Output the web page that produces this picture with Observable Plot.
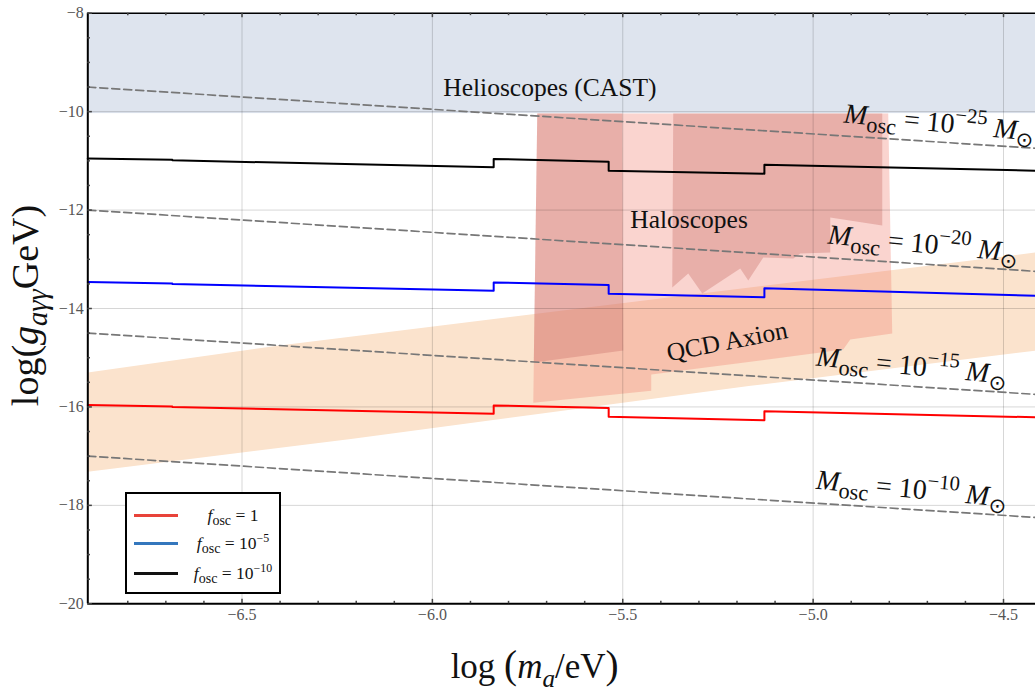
<!DOCTYPE html>
<html><head><meta charset="utf-8">
<script src="https://cdn.jsdelivr.net/npm/d3@7"></script>
<script src="https://cdn.jsdelivr.net/npm/@observablehq/plot@0.6"></script>
<style>
body{margin:0;background:#fff;}
#wrap{position:relative;width:1035px;height:695px;overflow:hidden;font-family:"Liberation Serif","Times New Roman",serif;}
#wrap svg{display:block;}
#legend{position:absolute;left:125px;top:492px;width:152px;height:98px;border:2px solid #000;background:#fff;}
.row{position:absolute;left:0;width:152px;height:22px;}
.sw{position:absolute;left:7px;top:10px;width:44px;height:0;border-top:3px solid;}
.lab{position:absolute;left:56px;width:100px;text-align:center;font-size:17.5px;line-height:22px;color:#111;white-space:nowrap;}
.lab sub{font-size:0.8em;vertical-align:-0.3em;line-height:0;}
.lab sup{font-size:0.68em;vertical-align:0.55em;line-height:0;}
</style></head>
<body><div id="wrap"></div>
<script>
// ---------- scales / ticks ----------
const X_DOMAIN = [-6.905, -4.416];
const Y_DOMAIN = [-20, -8];
const xMajor = [-6.5, -6.0, -5.5, -5.0, -4.5];
const xMinor = [-6.8,-6.7,-6.6,-6.4,-6.3,-6.2,-6.1,-5.9,-5.8,-5.7,-5.6,-5.4,-5.3,-5.2,-5.1,-4.9,-4.8,-4.7,-4.6];
const yMajor = [-8,-10,-12,-14,-16,-18,-20];
const yGrid = [-10,-12,-14,-16,-18];
const yMinor = [-8.5,-9,-9.5,-10.5,-11,-11.5,-12.5,-13,-13.5,-14.5,-15,-15.5,-16.5,-17,-17.5,-18.5,-19,-19.5];

// ---------- f_osc step curves ----------
const stepX  = [-6.905,-6.683,-6.683,-5.839,-5.839,-5.537,-5.537,-5.128,-5.128,-4.416];
const fBlack = [-10.95,-10.98,-10.99,-11.13,-10.96,-11.02,-11.20,-11.26,-11.08,-11.20];
const fBlue  = [-13.46,-13.49,-13.50,-13.64,-13.47,-13.52,-13.70,-13.77,-13.59,-13.74];
const fRed   = [-15.96,-15.99,-16.00,-16.14,-15.97,-16.02,-16.20,-16.27,-16.09,-16.21];

// ---------- M_osc dashed lines ----------
const moscX = [-6.905, -4.416];
const moscStart = [-9.5, -12.0, -14.5, -17.0];
const moscEnd   = [-10.745, -13.245, -15.745, -18.245];
const moscExp   = ["−25", "−20", "−15", "−10"];
const moscLabelX = [-4.921, -4.963, -4.994, -4.994];
const moscLabelY = [-10.222, -12.68, -15.16, -17.66];

// ---------- regions ----------
const helioX = [-6.905, -4.416];
const helioY = [-10.04, -8];
const qcdTopX = [-6.905, -6.407, -4.416];
const qcdTopY = [-15.30, -14.755, -12.862];
const qcdBotX = [-6.905, -6.214, -5.164, -4.416];
const qcdBotY = [-17.315, -16.65, -15.57, -14.856];
const haloLightX = [-5.7245,-4.8028,-4.7923,-4.9026,-4.9210,-5.4252,-5.4252,-5.7350];
const haloLightY = [-10.04,-10.04,-14.51,-14.632,-14.835,-15.343,-15.669,-15.913];
const haloDark1X = [-5.7245,-5.5013,-5.4987,-5.7337];
const haloDark1Y = [-10.04,-10.04,-14.855,-15.099];
const haloDark2X = [-5.3674,-4.8185,-4.8185,-4.9550,-4.9550,-5.0338,-5.0522,-5.1310,-5.1704,-5.1914,-5.2912,-5.3280,-5.3700];
const haloDark2Y = [-10.04,-10.04,-12.315,-12.152,-12.864,-12.884,-12.986,-12.965,-13.433,-13.189,-13.697,-13.291,-13.575];

// ---------- region labels ----------
const labelText  = ["Helioscopes (CAST)", "Haloscopes", "QCD Axion"];
const labelX     = [-5.9714, -5.4803, -5.380];
const labelY     = [-9.673, -12.356, -15.07];
const labelAngle = [0, 0, -11];

// ---------- legend ----------
const legendSup = ["", "−5", "−10"];
const legendBase = ["1", "10", "10"];
const legendColors = ["#e8433a", "#3477bd", "#111111"];

const FONT = '"Liberation Serif","Times New Roman",serif';

// build tables
const zipXY = (xs, ys, extra = {}) => xs.map((x, i) => ({x, y: ys[i], ...extra}));
const steps = [
  ...zipXY(stepX, fBlack, {s: "black"}),
  ...zipXY(stepX, fBlue, {s: "blue"}),
  ...zipXY(stepX, fRed, {s: "red"})
];
const dashed = moscStart.flatMap((y0, i) => [{x: moscX[0], y: y0, k: i}, {x: moscX[1], y: moscEnd[i], k: i}]);
const moscLabels = moscExp.map((e, i) => ({x: moscLabelX[i], y: moscLabelY[i], text: `Mosc = 10${e} M⊙`}));
const qcdPoly = [...zipXY(qcdTopX, qcdTopY), ...zipXY(qcdBotX, qcdBotY).reverse()];
const regionLabels = labelText.map((t, i) => ({text: t, x: labelX[i], y: labelY[i], r: labelAngle[i]}));

const X0 = X_DOMAIN[0], Y0 = Y_DOMAIN[0], Y1 = Y_DOMAIN[1];

const yTitle = "log(gaγγGeV)";
const xTitle = "log (ma/eV)";

const svg = Plot.plot({
  width: 1035, height: 695,
  marginLeft: 87.3, marginRight: 0, marginTop: 12.7, marginBottom: 91.7,
  x: {domain: X_DOMAIN},
  y: {domain: Y_DOMAIN},
  style: {fontFamily: FONT, background: "white", color: "#111"},
  marks: [
    Plot.rect([0], {x1: () => helioX[0], x2: () => helioX[1], y1: () => helioY[0], y2: () => helioY[1], fill: "#dee4ee"}),
    Plot.line(qcdPoly, {x: "x", y: "y", fill: "#fbe3cd", stroke: "none"}),
    Plot.line(zipXY(haloLightX, haloLightY), {x: "x", y: "y", fill: "rgb(239,120,107)", fillOpacity: 0.32, stroke: "none"}),
    Plot.line(zipXY(haloDark1X, haloDark1Y), {x: "x", y: "y", fill: "rgb(202,110,106)", fillOpacity: 0.37, stroke: "none"}),
    Plot.line(zipXY(haloDark2X, haloDark2Y), {x: "x", y: "y", fill: "rgb(202,110,106)", fillOpacity: 0.37, stroke: "none"}),
    // grid
    Plot.ruleX(xMajor, {stroke: "#000", strokeOpacity: 0.16, strokeWidth: 1}),
    Plot.ruleY(yGrid, {stroke: "#000", strokeOpacity: 0.16, strokeWidth: 1}),
    // dashed M_osc lines
    Plot.line(dashed, {x: "x", y: "y", z: "k", stroke: "#777", strokeWidth: 1.7, strokeDasharray: "8,4"}),
    // f_osc curves
    Plot.line(steps, {x: "x", y: "y", z: "s", stroke: "s", strokeWidth: 2}),
    // frame
    Plot.ruleX([X0], {stroke: "#000", strokeWidth: 2}),
    Plot.ruleY([Y0], {stroke: "#000", strokeWidth: 2}),
    Plot.ruleY([Y1], {stroke: "#000", strokeWidth: 1.6}),
    // inward ticks
    Plot.ruleX(xMajor, {y1: () => Y0, y2: () => Y0 + 0.09, stroke: "#444", strokeWidth: 1.5}),
    Plot.ruleX(xMinor, {y1: () => Y0, y2: () => Y0 + 0.05, stroke: "#444", strokeWidth: 1.5}),
    Plot.ruleX(xMajor, {y1: () => Y1, y2: () => Y1 - 0.09, stroke: "#444", strokeWidth: 1.5}),
    Plot.ruleX(xMinor, {y1: () => Y1, y2: () => Y1 - 0.05, stroke: "#444", strokeWidth: 1.5}),
    Plot.ruleY(yMajor, {x1: () => X0, x2: () => X0 + 0.012, stroke: "#444", strokeWidth: 1.5}),
    Plot.ruleY(yMinor, {x1: () => X0, x2: () => X0 + 0.007, stroke: "#444", strokeWidth: 1.5}),
    // axes labels
    Plot.axisX({ticks: xMajor, tickSize: 0, tickPadding: 5, tickFormat: d3.format(".1f"), fontSize: 16, color: "#555", label: null}),
    Plot.axisY({ticks: yMajor, tickSize: 0, tickPadding: 4, tickFormat: d3.format("d"), fontSize: 16, color: "#555", label: null}),
    // texts
    Plot.text(regionLabels, {x: "x", y: "y", text: "text", rotate: "r", fontSize: 25.5, textAnchor: "start", lineAnchor: "bottom", fill: "#111"}),
    Plot.text(moscLabels, {x: "x", y: "y", text: "text", rotate: 5.5, fontSize: 28, textAnchor: "start", lineAnchor: "bottom", fill: "#111"}),
    Plot.text([yTitle], {frameAnchor: "left", dx: -62, dy: -3, rotate: -90, fontSize: 38, textAnchor: "middle", lineAnchor: "middle", fill: "#111"}),
    Plot.text([xTitle], {frameAnchor: "bottom", dx: -27, dy: 74, fontSize: 35, textAnchor: "middle", lineAnchor: "bottom", fill: "#111"})
  ],
  color: {domain: ["black", "blue", "red"], range: ["#151515", "#1f3cf5", "#ee3b2d"]}
});

// rich text (sub/superscripts)
const RICH = {};
moscExp.forEach(e => {
  RICH[`Mosc = 10${e} M⊙`] = {size: 28, parts: [
    {t: "M", i: 1}, {t: "osc", sub: 1, k: 0.8}, {t: " = 10"}, {t: e, sup: 1, k: 0.74},
    {t: " "}, {t: "M", i: 1}, {t: "⊙", sub: 1, k: 0.75}
  ]};
});
RICH[yTitle] = {size: 38, parts: [{t: "log("}, {t: "g", i: 1}, {t: "aγγ", i: 1, sub: 1, k: 0.75}, {t: "GeV)"}]};
RICH[xTitle] = {size: 35, parts: [{t: "log "}, {t: "(", k: 1.12}, {t: "m", i: 1}, {t: "a", i: 1, sub: 1, k: 0.72}, {t: "/eV"}, {t: ")", k: 1.12}]};

function rich(el, parts, base) {
  el.textContent = "";
  el.style.whiteSpace = "pre";
  let shift = 0;
  for (const p of parts) {
    const s = p.sub ? base * 0.25 : p.sup ? -base * 0.42 : 0;
    const ts = document.createElementNS("http://www.w3.org/2000/svg", "tspan");
    ts.textContent = p.t;
    ts.setAttribute("font-size", (base * (p.k || 1)).toFixed(2));
    if (p.i) ts.setAttribute("font-style", "italic");
    if (s !== shift) ts.setAttribute("dy", (s - shift).toFixed(2));
    shift = s;
    el.appendChild(ts);
  }
}
d3.select(svg).selectAll("text").each(function () {
  const spec = RICH[this.textContent];
  if (spec) rich(this, spec.parts, spec.size);
});

const wrap = document.getElementById("wrap");
wrap.appendChild(svg);

// legend
const legend = document.createElement("div");
legend.id = "legend";
const rowTops = [10, 38.3, 67.7];
legendColors.forEach((c, i) => {
  const row = document.createElement("div");
  row.className = "row";
  row.style.top = rowTops[i] + "px";
  const sw = document.createElement("div");
  sw.className = "sw";
  sw.style.borderTopColor = c;
  const lab = document.createElement("div");
  lab.className = "lab";
  lab.innerHTML = `<i>f</i><sub>osc</sub> = ${legendBase[i]}${legendSup[i] ? `<sup>${legendSup[i]}</sup>` : ""}`;
  row.appendChild(sw); row.appendChild(lab);
  legend.appendChild(row);
});
wrap.appendChild(legend);
</script></body></html>
